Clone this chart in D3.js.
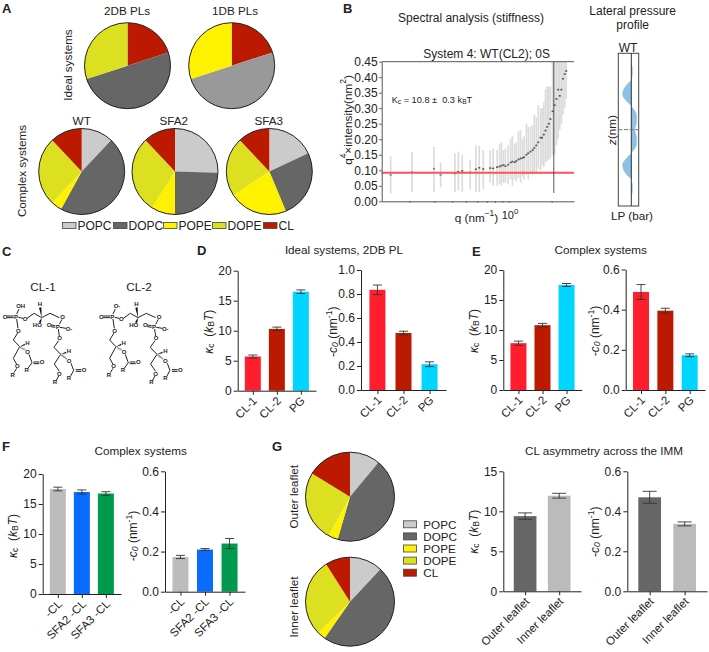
<!DOCTYPE html>
<html><head><meta charset="utf-8">
<script src="https://cdn.jsdelivr.net/npm/d3@7/dist/d3.min.js"></script>
<style>html,body{margin:0;padding:0;background:#fff}svg{display:block}text{font-family:"Liberation Sans",Arial,sans-serif;fill:#222;white-space:pre}</style>
</head><body><svg id="c" width="709" height="652"></svg>
<script>
// ---------- data ----------
const lipids = ["POPC","DOPC","POPE","DOPE","CL"];
const pieIdeal2DB = [["CL",20],["DOPC",50],["DOPE",30]];
const pieIdeal1DB = [["CL",20],["POPCdark",50],["POPE",30]];
const pieWT   = [12,46,4,26,12];
const pieSFA2 = [25.5,24.5,9,29,12];
const pieSFA3 = [18,25.7,22,22.3,12];
const pieOuter = [11,43.5,3.5,25.7,16.3];
const pieInner = [12,47.7,3,28.3,9];

const specQ  = [.148,.209,.298,.332,.418,.442,.471,.536,.587,.620,.661,.74,.776,.828,.862,.889,.918,.948,.99,1.03,1.06,1.10,1.13,1.17,1.21,1.25,1.28,1.33,1.37,1.42,1.47,1.51,1.56,1.61,1.67,1.71,1.76,1.81,1.86,1.91,1.96,2.03,2.10,2.16,2.22,2.28,2.34,2.40,2.47,2.53];
const specV  = [.085,.094,.105,.085,.09,.095,.098,.093,.103,.108,.104,.107,.106,.11,.112,.115,.117,.113,.118,.125,.128,.126,.13,.135,.138,.14,.142,.15,.155,.16,.165,.172,.18,.19,.205,.205,.215,.228,.24,.25,.265,.29,.31,.33,.36,.34,.36,.395,.41,.42];
const specLo = [.025,.03,.03,.045,.03,.035,.03,.04,.03,.03,.04,.06,.05,.05,.055,.05,.06,.06,.055,.07,.05,.07,.065,.075,.06,.08,.07,.085,.07,.09,.085,.095,.09,.105,.1,.115,.11,.125,.13,.135,.14,.15,.15,.18,.2,.23,.25,.28,.3,.33];
const specHi = [.145,.16,.175,.125,.155,.16,.15,.135,.18,.18,.165,.165,.17,.165,.185,.19,.165,.17,.18,.2,.21,.185,.19,.225,.23,.2,.21,.25,.24,.24,.245,.28,.27,.31,.30,.3,.32,.36,.37,.37,.37,.45,.46,.46,.46,.46,.46,.46,.46,.46];
const specFit = 0.092;
const specVline = 2.07;

const lpZ = [-4,-3.55,-3.25,-2.9,-2.62,-2.46,-2.1,-1.83,-1.5,-1.2,-.76,-.4,0,.4,.76,1.2,1.5,1.83,2.1,2.46,2.62,2.9,3.25,3.55,4];
const lpV = [0,0,1.3,1.3,0,-3,-8,-9,-5,.5,5.5,5.5,3.7,5.5,5.5,.5,-5,-9,-8,-3,0,1.3,1.3,0,0];

const catsCL = ["CL-1","CL-2","PG"];
const catsSFA = ["-CL","SFA2 -CL","SFA3 -CL"];
const catsLeaf = ["Outer leaflet","Inner leaflet"];
const dKappa = [5.7,10.3,16.5], dKappaErr = [.25,.3,.3];
const dC0 = [.835,.475,.215], dC0Err = [.04,.015,.02];
const eKappa = [7.8,10.8,17.5], eKappaErr = [.35,.3,.25];
const eC0 = [.488,.395,.173], eC0Err = [.037,.012,.007];
const fKappa = [17.5,17,16.75], fKappaErr = [.3,.35,.3];
const fC0 = [.173,.21,.24], fC0Err = [.008,.005,.025];
const gKappa = [9.4,11.95], gKappaErr = [.4,.3];
const gC0 = [.47,.337], gC0Err = [.03,.01];
const ticksK20 = [0,5,10,15,20], ticksK15 = [0,5,10,15];
const ticks1 = [0,.2,.4,.6,.8,1], ticks06 = [0,.2,.4,.6];
const ticksSpec = [0,.05,.1,.15,.2,.25,.3,.35,.4,.45];

// ---------- helpers ----------
const svg = d3.select("#c");
const DARK = "#222";
const lipidColor = {POPC:"#cbcbcb",DOPC:"#666666",POPE:"#fff200",DOPE:"#dde021",CL:"#bb1a00",POPCdark:"#999999"};
const RED="#ff1e2d", BRICK="#bb1a00", CYAN="#00d5ff", GREY="#bcbcbc", BLUE="#0a6cff", GREEN="#009a4e", DG="#666666", LG="#bbbbbb";

function txt(x,y,s,opt={}){
  const size=opt.size||11.7;
  const t = svg.append("text").attr("x",x).attr("y",y).attr("font-size",size)
    .attr("text-anchor",opt.anchor||"middle").attr("dominant-baseline","central");
  if(opt.bold) t.attr("font-weight","bold");
  if(opt.rot) t.attr("transform",`rotate(${opt.rot},${x},${y})`);
  if(typeof s==="string") t.text(s);
  else s.forEach(seg=>{
    const ts=t.append("tspan").text(seg.t);
    if(seg.it) ts.attr("font-style","italic");
    if(seg.sub){ts.attr("font-size",size*.72).attr("dy",seg.dy||2.5);}
    if(seg.sup){ts.attr("font-size",size*.72).attr("dy",seg.dy||-4);}
    if(seg.back){ts.attr("dy",seg.back);}
  });
  return t;
}
function pie(cx,cy,r,rows){
  const arc=d3.arc().innerRadius(0).outerRadius(r);
  const g=svg.append("g").attr("transform",`translate(${cx},${cy})`);
  g.selectAll("path").data(d3.pie().sort(null).value(d=>d[1])(rows)).join("path")
    .attr("d",arc).attr("fill",d=>lipidColor[d.data[0]]);
  g.append("circle").attr("r",r).attr("fill","none").attr("stroke",DARK).attr("stroke-width",1);
}
const zip=v=>lipids.map((k,i)=>[k,v[i]]);

function barPanel(o){
  const x=d3.scalePoint().domain(o.cats).range([o.x0,o.x1]).padding(o.pad||.63);
  const y=d3.scaleLinear().domain([0,o.max]).range([o.y0,o.y1]);
  const g=svg.append("g");
  g.selectAll("rect").data(o.vals).join("rect")
    .attr("x",(d,i)=>x(o.cats[i])-o.w/2).attr("width",o.w)
    .attr("y",d=>y(d)).attr("height",d=>y(0)-y(d))
    .attr("fill",(d,i)=>o.colors[i]);
  o.vals.forEach((v,i)=>{
    const cx=x(o.cats[i]),e=o.errs[i],cap=o.cap||4.5;
    g.append("path").attr("fill","none").attr("stroke","#333").attr("stroke-width",.9)
      .attr("d",`M${cx-cap},${y(v+e)}H${cx+cap}M${cx},${y(v+e)}V${y(v-e)}M${cx-cap},${y(v-e)}H${cx+cap}`);
  });
  const ax=g.append("g").attr("transform",`translate(${o.x0},0)`)
    .call(d3.axisLeft(y).tickValues(o.ticks).tickSize(4).tickPadding(2).tickSizeOuter(0).tickFormat(o.fmt||d3.format("d")));
  const bx=g.append("g").attr("transform",`translate(0,${o.y0})`)
    .call(d3.axisBottom(x).tickSize(4).tickSizeOuter(0).tickFormat(""));
  [ax,bx].forEach(a=>{a.selectAll("path,line").attr("stroke",DARK).attr("stroke-width",1);});
  ax.selectAll("text").attr("font-size",12).attr("fill",DARK).attr("font-family",'"Liberation Sans",Arial,sans-serif');
  o.cats.forEach(c=>{
    const px=x(c)+2,py=o.y0+8;
    svg.append("text").attr("x",px).attr("y",py).attr("font-size",11.5).attr("text-anchor","end")
      .attr("dominant-baseline","central").attr("transform",`rotate(-45,${px},${py})`).text(c);
  });
}
const kLabel=[{t:"κ",it:1},{t:"c",sub:1,dy:2},{t:"  (",back:-2},{t:"k",it:1},{t:"B",sub:1,dy:2},{t:"T",it:1,back:-2},{t:")"}];
const cLabel=[{t:"-c",it:1},{t:"0",sub:1,it:1,dy:2},{t:" (nm",back:-2},{t:"-1",sup:1},{t:")",back:4}];
const f1=d3.format(".1f");

// ---------- panel letters ----------
[["A",2,8],["B",343,8],["C",2,251],["D",197,250],["E",472,251],["F",2,446],["G",272,446]]
 .forEach(l=>txt(l[1],l[2],l[0],{size:13,bold:true,anchor:"start"}));

// ---------- A ----------
txt(127,10,"2DB PLs");txt(235,10,"1DB PLs");
txt(67,65,"Ideal systems",{rot:-90});txt(21.5,171,"Complex systems",{rot:-90});
txt(81.7,120,"WT");txt(173.7,120,"SFA2");txt(268.7,120,"SFA3");
pie(127.5,65.7,43,pieIdeal2DB);pie(231.7,65.7,43,pieIdeal1DB);
pie(81.7,171.5,43,zip(pieWT));pie(175,171.5,43,zip(pieSFA2));pie(269.3,171.5,43,zip(pieSFA3));
const legX=[62,113,163,212,263];
lipids.forEach((k,i)=>{
  svg.append("rect").attr("x",legX[i]+.5).attr("y",222.5).attr("width",13.5).attr("height",6)
    .attr("fill",lipidColor[k]).attr("stroke","#444").attr("stroke-width",.8);
  txt(legX[i]+15.5,225.5,k,{anchor:"start",size:12});
});

// ---------- B spectrum ----------
txt(471,18,"Spectral analysis (stiffness)",{size:12});
txt(632.7,10.7,"Lateral pressure",{size:12});txt(632.7,25,"profile",{size:12});
txt(486.7,54,"System 4: WT(CL2); 0S",{size:12});
const sx=d3.scaleLog().domain([.128,2.87]).range([381.7,574]);
const sy=d3.scaleLinear().domain([0,.45]).range([201.3,61.7]);
svg.append("clipPath").attr("id","sc").append("rect").attr("x",381.7).attr("y",61.7).attr("width",192.3).attr("height",139.6);
const sg=svg.append("g").attr("clip-path","url(#sc)");
sg.selectAll("line.e").data(specQ).join("line").attr("class","e")
  .attr("x1",d=>sx(d)).attr("x2",d=>sx(d))
  .attr("y1",(d,i)=>sy(specLo[i])).attr("y2",(d,i)=>sy(specHi[i]))
  .attr("stroke","#dcdcdc").attr("stroke-width",1.7);
sg.selectAll("rect.p").data(specQ).join("rect").attr("class","p")
  .attr("x",d=>sx(d)-1).attr("width",2).attr("height",1.6)
  .attr("y",(d,i)=>sy(specV[i])-.8)
  .attr("fill",(d,i)=>i<4?"#3b8fd6":"#555");
svg.append("line").attr("x1",381.7).attr("x2",574).attr("y1",sy(specFit)).attr("y2",sy(specFit))
  .attr("stroke","#ff5158").attr("stroke-width",2);
svg.append("line").attr("x1",sx(specVline)).attr("x2",sx(specVline)).attr("y1",sy(.45)).attr("y2",sy(.027))
  .attr("stroke","#444").attr("stroke-width",.9);
svg.append("line").attr("x1",381.7).attr("x2",574).attr("y1",61.7).attr("y2",61.7).attr("stroke","#555").attr("stroke-width",1);
const say=svg.append("g").attr("transform","translate(381.7,0)")
  .call(d3.axisLeft(sy).tickValues(ticksSpec).tickSize(2.5).tickPadding(1.5).tickSizeOuter(0).tickFormat(d3.format(".2f")));
say.selectAll("path,line").attr("stroke","#555");
say.selectAll("text").attr("font-size",12).attr("fill",DARK).attr("font-family",'"Liberation Sans",Arial,sans-serif');
const sax=svg.append("g").attr("transform","translate(0,201.3)")
  .call(d3.axisBottom(sx).tickValues([.2,.3,.4,.5,.6,.7,.8,.9,1,2]).tickSize(1.5).tickSizeOuter(0).tickFormat(""));
sax.selectAll("path,line").attr("stroke","#555");
txt(347,120,[{t:"q"},{t:"4",sup:1},{t:"×intensity(nm",back:4},{t:"2",sup:1},{t:")",back:4}],{rot:-90,size:11.7});
txt(476.5,217,[{t:"q (nm"},{t:"−1",sup:1},{t:")",back:4}],{size:11.7});
txt(510,214.5,[{t:"10"},{t:"0",sup:1}],{size:11});
txt(391.7,99.5,[{t:"K"},{t:"c",sub:1,dy:1.5},{t:" = 10.8 ±  0.3 k",back:-1.5},{t:"B",sub:1,dy:1.5},{t:"T",back:-1.5}],{size:9.2,anchor:"start"});

// ---------- B lateral pressure ----------
txt(628,47.5,"WT",{size:12});
const lx=d3.scaleLinear().domain([-13,7.4]).range([618.3,638.7]);
const ly=d3.scaleLinear().domain([-4,4]).range([206,53.3]);
const lpPts=lpZ.map((z,i)=>[z,lpV[i]]);
svg.append("path").attr("fill","#8cc3e4").attr("d",
  d3.area().y(d=>ly(d[0])).x0(lx(0)).x1(d=>lx(d[1])).curve(d3.curveMonotoneY)(lpPts));
svg.append("rect").attr("x",618.3).attr("y",53.3).attr("width",20.4).attr("height",152.7)
  .attr("fill","none").attr("stroke","#444").attr("stroke-width",1);
svg.append("line").attr("x1",lx(0)).attr("x2",lx(0)).attr("y1",53.3).attr("y2",206).attr("stroke","#333").attr("stroke-width",1);
svg.append("line").attr("x1",618.5).attr("x2",640).attr("y1",ly(0)).attr("y2",ly(0)).attr("stroke","#777").attr("stroke-width",1).attr("stroke-dasharray","4 1.5");
txt(632,215,"LP (bar)");
txt(610.7,130,[{t:"z",it:1},{t:"(nm)"}],{rot:-90});

// ---------- C structures ----------
function molecule(dx,topLabel,title,titleX){
  const g=svg.append("g").attr("transform",`translate(${dx},295) scale(.3333)`);
  const bonds=["M21,63H41M21,68H41","M50,57L57,42","M55,67L69,70","M81,70L102,55L125,68L150,55L178,68","M186,73L178,88",
   "M153,90L166,92M153,95L166,97","M180,97L198,100","M175,102L178,123","M176,137L162,157L182,178","M182,178L163,207L178,229",
   "M176,243L168,258","M213,205L221,226L212,243","M227,224H244M227,229H244",
   "M50,72L54,100","M53,114L40,135L59,155L40,190L50,208","M50,220L42,233","M87,178L96,203L84,220","M100,201H118M100,206H118"];
  g.append("g").selectAll("path").data(bonds).join("path").attr("d",d=>d).attr("fill","none").attr("stroke","#222").attr("stroke-width",3);
  const wedges=["M125,68L117,38L124,37Z","M125,68L116,82L123,84Z","M182,178L198,170L199,175Z","M59,155L74,146L75,151Z"];
  g.append("g").selectAll("path").data(wedges).join("path").attr("d",d=>d).attr("fill","#111");
  const dashes=["M185,180L200,192","M62,157L76,165"];
  g.append("g").selectAll("path").data(dashes).join("path").attr("d",d=>d).attr("fill","none").attr("stroke","#222").attr("stroke-width",5).attr("stroke-dasharray","1.5 2");
  const atoms=[["O",15,65],[topLabel,62,34],["P",48,65],["O",75,72],["O",188,66],["P",173,95],["O",147,90],["O-",207,101],["O",179,130],
    ["H",207,167],["O",207,198],["O",252,226],["R",207,250],["O",178,236],["R",165,262],["O",55,107],["H",82,143],["O",83,170],["O",126,202],
    ["R",80,226],["O",52,213],["R",38,240],["H",120,28],["HO",112,90]];
  g.append("g").selectAll("text").data(atoms).join("text").attr("x",d=>d[1]).attr("y",d=>d[2]).text(d=>d[0])
    .attr("font-size",18).attr("font-weight","bold").attr("text-anchor","middle").attr("dominant-baseline","central").attr("fill","#222");
  txt(titleX,286,title);
}
molecule(0,"OH","CL-1",43);
molecule(96.3,"O-","CL-2",139);

// ---------- D ----------
txt(344,249,"Ideal systems, 2DB PL");
barPanel({cats:catsCL,vals:dKappa,errs:dKappaErr,colors:[RED,BRICK,CYAN],x0:237.7,x1:316,y0:390.7,y1:270.7,max:20,ticks:ticksK20,w:16});
barPanel({cats:catsCL,vals:dC0,errs:dC0Err,colors:[RED,BRICK,CYAN],x0:361,x1:446,y0:390,y1:270,max:1,ticks:ticks1,w:16,fmt:f1});
txt(209,331.7,kLabel,{rot:-90,size:12});txt(332.7,331.7,cLabel,{rot:-90,size:12});

// ---------- E ----------
txt(600.7,249,"Complex systems");
barPanel({cats:catsCL,vals:eKappa,errs:eKappaErr,colors:[RED,BRICK,CYAN],x0:503.3,x1:581.7,y0:390,y1:270,max:20,ticks:ticksK20,w:16});
barPanel({cats:catsCL,vals:eC0,errs:eC0Err,colors:[RED,BRICK,CYAN],x0:625.7,x1:705,y0:390,y1:269.5,max:.6,ticks:ticks06,w:16,fmt:f1});
txt(474,331,kLabel,{rot:-90,size:12});txt(595,331,cLabel,{rot:-90,size:12});

// ---------- F ----------
txt(140.7,450,"Complex systems");
barPanel({cats:catsSFA,vals:fKappa,errs:fKappaErr,colors:[GREY,BLUE,GREEN],x0:42.7,x1:121,y0:594,y1:474,max:20,ticks:ticksK20,w:16});
barPanel({cats:catsSFA,vals:fC0,errs:fC0Err,colors:[GREY,BLUE,GREEN],x0:165,x1:245,y0:591.7,y1:471.3,max:.6,ticks:ticks06,w:16,fmt:f1});
txt(13,536,kLabel,{rot:-90,size:12});txt(133,536,cLabel,{rot:-90,size:12});

// ---------- G ----------
txt(293.3,496.7,"Outer leaflet",{rot:-90});txt(293.3,607,"Inner leaflet",{rot:-90});
pie(350,496.7,44.5,zip(pieOuter));pie(350,601.7,44.5,zip(pieInner));
lipids.forEach((k,i)=>{
  const yy=524.3+i*12.1;
  svg.append("rect").attr("x",403.5).attr("y",yy-3.5).attr("width",13).attr("height",7)
    .attr("fill",lipidColor[k]).attr("stroke","#444").attr("stroke-width",.8);
  txt(423.3,yy,k,{anchor:"start"});
});
txt(604,450,"CL asymmetry across the IMM");
barPanel({cats:catsLeaf,vals:gKappa,errs:gKappaErr,colors:[DG,LG],x0:503.3,x1:581,y0:591.3,y1:471.3,max:15,ticks:ticksK15,w:22.7,pad:.64,cap:7});
barPanel({cats:catsLeaf,vals:gC0,errs:gC0Err,colors:[DG,LG],x0:627.3,x1:707,y0:591.3,y1:471.3,max:.6,ticks:ticks06,w:22.7,pad:.64,fmt:f1,cap:7});
txt(474,531.7,kLabel,{rot:-90,size:12});txt(595,531.7,cLabel,{rot:-90,size:12});
</script></body></html>
